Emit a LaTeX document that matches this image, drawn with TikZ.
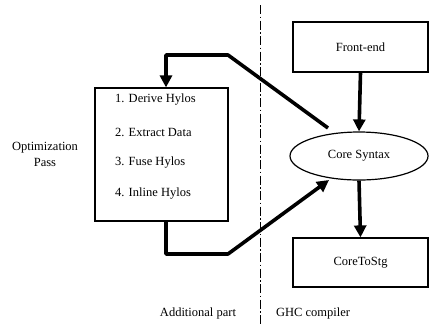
\documentclass[tikz,border=0pt]{standalone}
\usepackage{fontspec}
\setmainfont{Liberation Serif}
\usetikzlibrary{arrows.meta,shapes.geometric}
\begin{document}
\begin{tikzpicture}[x=1pt,y=-1pt,
  box/.style={draw,line width=1.2pt,inner sep=0pt},
  lbl/.style={font=\fontsize{12.5}{14}\selectfont,inner sep=0pt},
  thick arrow/.style={line width=3.6pt,line join=round,-{Triangle[length=12pt,width=12pt]}},
  thick line/.style={line width=3.6pt,line join=round}]
\useasboundingbox (0,0) rectangle (430,325);
% boxes
\node[box,minimum width=135pt,minimum height=50pt] (fe) at (360.5,47) {};
\node[lbl] at (fe) {Front-end};
\node[box,ellipse,minimum width=138pt,minimum height=48pt] (cs) at (359,156) {};
\node[lbl] at (cs) {Core Syntax};
\node[box,minimum width=135pt,minimum height=49pt] (cts) at (360.5,262.5) {};
\node[lbl] at (cts) {CoreToStg};
\node[box,minimum width=133pt,minimum height=133pt] (opt) at (161.5,154.5) {};
\node[lbl,anchor=west] (s1) at (115,100) {1. Derive Hylos};
\node[lbl,anchor=west] (s2) at (115,132) {2. Extract Data};
\node[lbl,anchor=west] (s3) at (115,163) {3. Fuse Hylos};
\node[lbl,anchor=west] (s4) at (115,194) {4. Inline Hylos};
\node[lbl,align=center] (op) at (45,154.5) {Optimization\\[2pt]Pass};
% divider
\coordinate (dtop) at (260,5);
\coordinate (dbot) at (260,325);
\draw[line width=0.8pt,dash pattern=on 9pt off 2.5pt on 1.5pt off 2.5pt] (dtop) -- (dbot);
\node[lbl] (ap) at (198,313) {Additional part};
\node[lbl] (ghc) at (313,313) {GHC compiler};
% vertical arrows
\draw[thick arrow] (fe.south) -- (cs.north);
\draw[thick arrow] (cs.south) -- (cts.north);
% loop arrows
\coordinate (a1) at (328,128);
\coordinate (a2) at (228,55);
\coordinate (a3) at (166,55);
\coordinate (a4) at (166,88);
\draw[thick arrow] (a1) -- (a2) -- (a3) -- (opt.north -| a4);
\coordinate (b1) at (166,221);
\coordinate (b2) at (166,254);
\coordinate (b3) at (228,254);
\coordinate (b4) at (329,180);
\draw[thick arrow] (opt.south -| b1) -- (b2) -- (b3) -- (b4);
\end{tikzpicture}
\end{document}
